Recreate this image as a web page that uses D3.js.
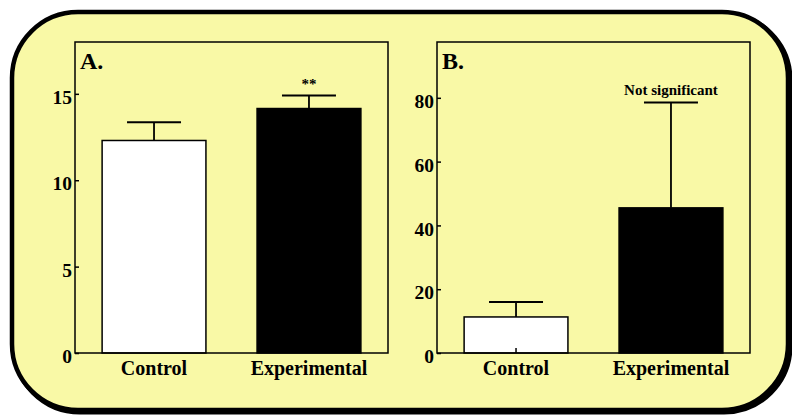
<!DOCTYPE html>
<html>
<head>
<meta charset="utf-8">
<script src="https://cdn.jsdelivr.net/npm/d3@7"></script>
<style>
  body { margin: 0; background: #fff; }
</style>
</head>
<body>
<div id="chart"></div>
<script>
// data
var groups = ["Control", "Experimental"];
var meanA = [12.3, 14.15];
var semA = [1.05, 0.75];
var meanB = [11.3, 45.5];
var semB = [4.7, 33.0];
var ticksA = [0, 5, 10, 15];
var ticksB = [0, 20, 40, 60, 80];
var barColors = ["#ffffff", "#000000"];

var serif = "'Liberation Serif', 'Times New Roman', serif";

function init() {
    var w = 792;
    var h = 416;

    var svg = d3.select("#chart")
        .append("svg")
        .attr("width", w)
        .attr("height", h);

    //outer rounded box with a small shadow
    svg.append("rect")
        .attr("x", 14).attr("y", 14)
        .attr("width", 776).attr("height", 398)
        .attr("rx", 66).attr("ry", 66)
        .attr("fill", "none")
        .attr("stroke", "#000")
        .attr("stroke-width", 5);
    svg.append("rect")
        .attr("x", 12).attr("y", 12)
        .attr("width", 776).attr("height", 398)
        .attr("rx", 66).attr("ry", 66)
        .attr("fill", "#f9f9a6")
        .attr("stroke", "#000")
        .attr("stroke-width", 4.5);

    var top = 42, bottom = 353;

    function panel(x0, x1, yMax, means, sems, ticks, letter, note, noteSize, noteGap, xTicks) {
        var g = svg.append("g");

        var xScale = d3.scaleBand()
            .domain(groups)
            .range([x0, x1])
            .paddingInner(0.33)
            .paddingOuter(0.175);

        var yScale = d3.scaleLinear()
            .domain([0, yMax])
            .range([bottom, top]);

        //bars
        g.selectAll("rect.bar")
            .data(groups)
            .enter()
            .append("rect")
            .attr("class", "bar")
            .attr("x", function(d) { return xScale(d); })
            .attr("y", function(d, i) { return yScale(means[i]); })
            .attr("width", xScale.bandwidth())
            .attr("height", function(d, i) { return yScale(0) - yScale(means[i]); })
            .attr("fill", function(d, i) { return barColors[i]; })
            .attr("stroke", "#000")
            .attr("stroke-width", 1.5);

        //error bars (upper only)
        var cap = xScale.bandwidth() * 0.26;
        g.selectAll("line.err")
            .data(groups)
            .enter()
            .append("line")
            .attr("x1", function(d) { return xScale(d) + xScale.bandwidth() / 2; })
            .attr("x2", function(d) { return xScale(d) + xScale.bandwidth() / 2; })
            .attr("y1", function(d, i) { return yScale(means[i]); })
            .attr("y2", function(d, i) { return yScale(means[i] + sems[i]); })
            .attr("stroke", "#000")
            .attr("stroke-width", 1.8);
        g.selectAll("line.cap")
            .data(groups)
            .enter()
            .append("line")
            .attr("x1", function(d) { return xScale(d) + xScale.bandwidth() / 2 - cap; })
            .attr("x2", function(d) { return xScale(d) + xScale.bandwidth() / 2 + cap; })
            .attr("y1", function(d, i) { return yScale(means[i] + sems[i]); })
            .attr("y2", function(d, i) { return yScale(means[i] + sems[i]); })
            .attr("stroke", "#000")
            .attr("stroke-width", 2);

        //significance note above experimental bar
        g.append("text")
            .attr("x", xScale(groups[1]) + xScale.bandwidth() / 2)
            .attr("y", yScale(means[1] + sems[1]) - noteGap)
            .attr("text-anchor", "middle")
            .style("font-family", serif)
            .style("font-weight", "bold")
            .style("font-size", noteSize + "px")
            .text(note);

        //frame
        g.append("rect")
            .attr("x", x0).attr("y", top)
            .attr("width", x1 - x0).attr("height", bottom - top)
            .attr("fill", "none")
            .attr("stroke", "#000")
            .attr("stroke-width", 1.5);

        //y axis, ticks point inward
        var yAxis = d3.axisLeft(yScale)
            .tickValues(ticks)
            .tickSize(-4)
            .tickPadding(3)
            .tickFormat(d3.format("d"));
        var ya = g.append("g")
            .attr("transform", "translate(" + x0 + ",0)")
            .call(yAxis);
        ya.select(".domain").remove();
        ya.selectAll("line").attr("stroke-width", 1.5);
        ya.selectAll("text")
            .attr("dy", "0.5em")
            .attr("fill", "#000")
            .style("font-size", "19.5px")
            .style("font-weight", "bold")
            .style("font-family", serif);

        //x axis labels
        var xAxis = d3.axisBottom(xScale)
            .tickSize(xTicks ? -5 : 0)
            .tickPadding(16);
        var xa = g.append("g")
            .attr("transform", "translate(0," + bottom + ")")
            .call(xAxis);
        xa.select(".domain").remove();
        xa.selectAll("line").attr("stroke-width", 1.5);
        xa.selectAll("text")
            .attr("dy", "0.3em")
            .attr("fill", "#000")
            .style("font-size", "20px")
            .style("font-weight", "bold")
            .style("font-family", serif);

        //panel letter
        g.append("text")
            .attr("x", x0 + 5)
            .attr("y", top + 27)
            .style("font-family", serif)
            .style("font-weight", "bold")
            .style("font-size", "24px")
            .text(letter);
    }

    panel(75, 388, 18, meanA, semA, ticksA, "A.", "**", 15, 7, false);
    panel(437, 750, 97.5, meanB, semB, ticksB, "B.", "Not significant", 15, 8, true);
}
window.onload = init;
</script>
</body>
</html>
